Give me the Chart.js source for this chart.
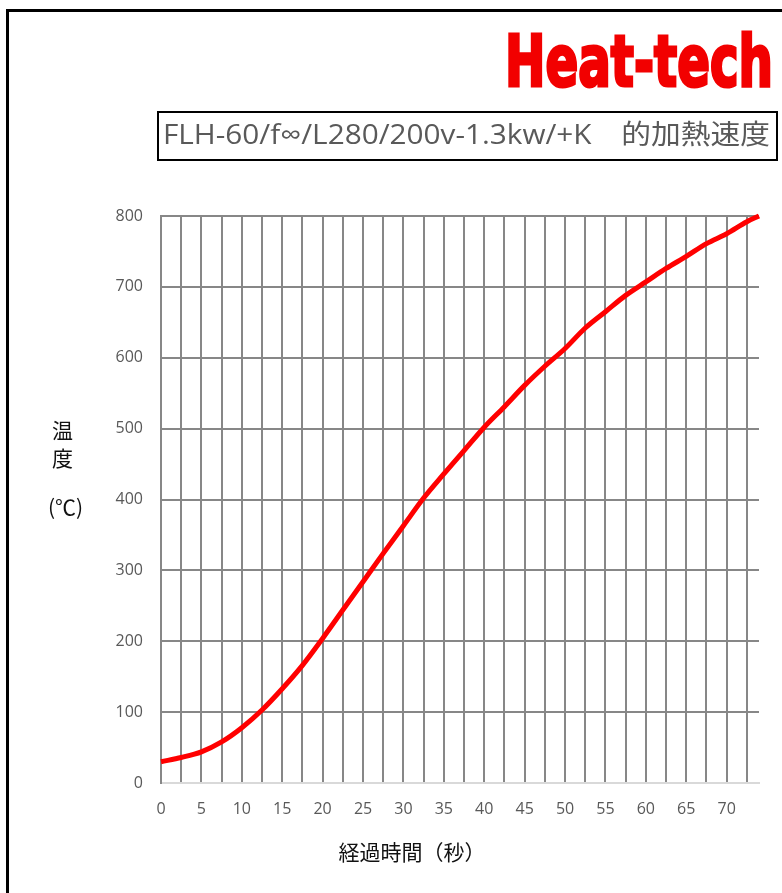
<!DOCTYPE html>
<html>
<head>
<meta charset="utf-8">
<script src="https://cdn.jsdelivr.net/npm/chart.js@4.4.1/dist/chart.umd.min.js"></script>
<style>
  html, body { margin: 0; padding: 0; background: #fff; }
  #wrap { position: relative; width: 782px; height: 893px; overflow: hidden; }
  #frame { position: absolute; left: 6px; top: 9px; right: -10px; bottom: -10px;
           border-top: 3px solid #000; border-left: 3px solid #000; }
  #chart { position: absolute; left: 0; top: 0; }
  .fit { position: absolute; white-space: nowrap; transform-origin: 0 0; line-height: 1; }
  #brand { left: 505px; top: 25px; font-family: "Liberation Sans Narrow", "DejaVu Sans Condensed", sans-serif;
           font-weight: bold; font-size: 72px; color: #f20000; -webkit-text-stroke: 3px #f20000; }
  #titleBox { position: absolute; left: 157px; top: 111px; width: 621px; height: 50px;
              border: 2px solid #000; box-sizing: border-box; }
  #title { left: 163px; top: 120px; font-family: "Open Sans", "Noto Sans CJK JP", sans-serif;
           font-size: 27px; color: #595959; }
  .ytitle { position: absolute; font-family: "Noto Sans CJK JP", sans-serif; font-size: 21px;
            color: #111; line-height: 1; }
  #xtitle { position: absolute; left: 262px; width: 300px; text-align: center; top: 841px;
            font-family: "Noto Sans CJK JP", sans-serif; font-size: 21px; color: #111; line-height: 1; }
</style>
</head>
<body>
<div id="wrap">
  <div id="frame"></div>
  <canvas id="chart" width="782" height="893"></canvas>
  <div id="brand" class="fit" data-w="268">Heat-tech</div>
  <div id="titleBox"></div>
  <div id="title" class="fit" data-w="607">FLH-60/f∞/L280/200v-1.3kw/+K　的加熱速度</div>
  <div class="ytitle" style="left:52px; top:419px;">温</div>
  <div class="ytitle" style="left:52px; top:447px;">度</div>
  <div class="ytitle" style="left:48px; top:496px;">(℃)</div>
  <div id="xtitle">経過時間（秒）</div>
</div>
<script>
// elapsed time (s) and temperature (°C)
const seconds = [0, 2.5, 5, 7.5, 10, 12.5, 15, 17.5, 20, 22.5, 25, 27.5, 30, 32.5, 35,
  37.5, 40, 42.5, 45, 47.5, 50, 52.5, 55, 57.5, 60, 62.5, 65, 67.5, 70, 72.5, 74];
const temps = [30, 36, 44, 58, 78, 103, 133, 166, 204, 244, 284, 324, 363, 402, 436,
  469, 502, 531, 561, 588, 613, 642, 665, 688, 707, 726, 743, 761, 775, 792, 800];

const xGridTicks = [];
for (let v = 0; v <= 72.5; v += 2.5) xGridTicks.push(v);
const yTicks = [0, 100, 200, 300, 400, 500, 600, 700, 800];

// squeeze/stretch text boxes to the measured widths
document.querySelectorAll('.fit').forEach(el => {
  const w = el.getBoundingClientRect().width;
  el.style.transform = 'scaleX(' + (el.dataset.w / w) + ')';
});

const ctx = document.getElementById('chart').getContext('2d');
new Chart(ctx, {
  type: 'line',
  data: {
    datasets: [{
      data: seconds.map((s, i) => ({ x: s, y: temps[i] })),
      borderColor: '#ff0000',
      borderWidth: 5,
      pointRadius: 0,
      cubicInterpolationMode: 'monotone',
      clip: false,
    }]
  },
  options: {
    responsive: false,
    animation: false,
    layout: { padding: { left: 0, top: 216, right: 23, bottom: 70 } },
    plugins: { legend: { display: false }, tooltip: { enabled: false } },
    scales: {
      x: {
        type: 'linear',
        min: 0,
        max: 74,
        afterBuildTicks: (scale) => { scale.ticks = xGridTicks.map(v => ({ value: v })); },
        afterFit: (scale) => { scale.height = 40; },
        grid: { color: '#878787', lineWidth: 2, drawTicks: false },
        border: { color: '#d9d9d9', width: 2 },
        ticks: {
          autoSkip: false,
          maxRotation: 0,
          padding: 17,
          color: '#595959',
          font: { family: 'Open Sans', size: 16 },
          callback: (v) => (v % 5 === 0 ? String(v) : ''),
        },
      },
      y: {
        min: 0,
        max: 800,
        afterBuildTicks: (scale) => { scale.ticks = yTicks.map(v => ({ value: v })); },
        afterFit: (scale) => { scale.width = 161; },
        grid: {
          color: (c) => (c.tick && c.tick.value === 0 ? '#d9d9d9' : '#878787'),
          lineWidth: 2,
          drawTicks: false,
        },
        border: { color: '#878787', width: 2 },
        ticks: {
          padding: 18,
          color: '#595959',
          font: { family: 'Open Sans', size: 16 },
        },
      },
    },
  },
});
</script>
</body>
</html>
